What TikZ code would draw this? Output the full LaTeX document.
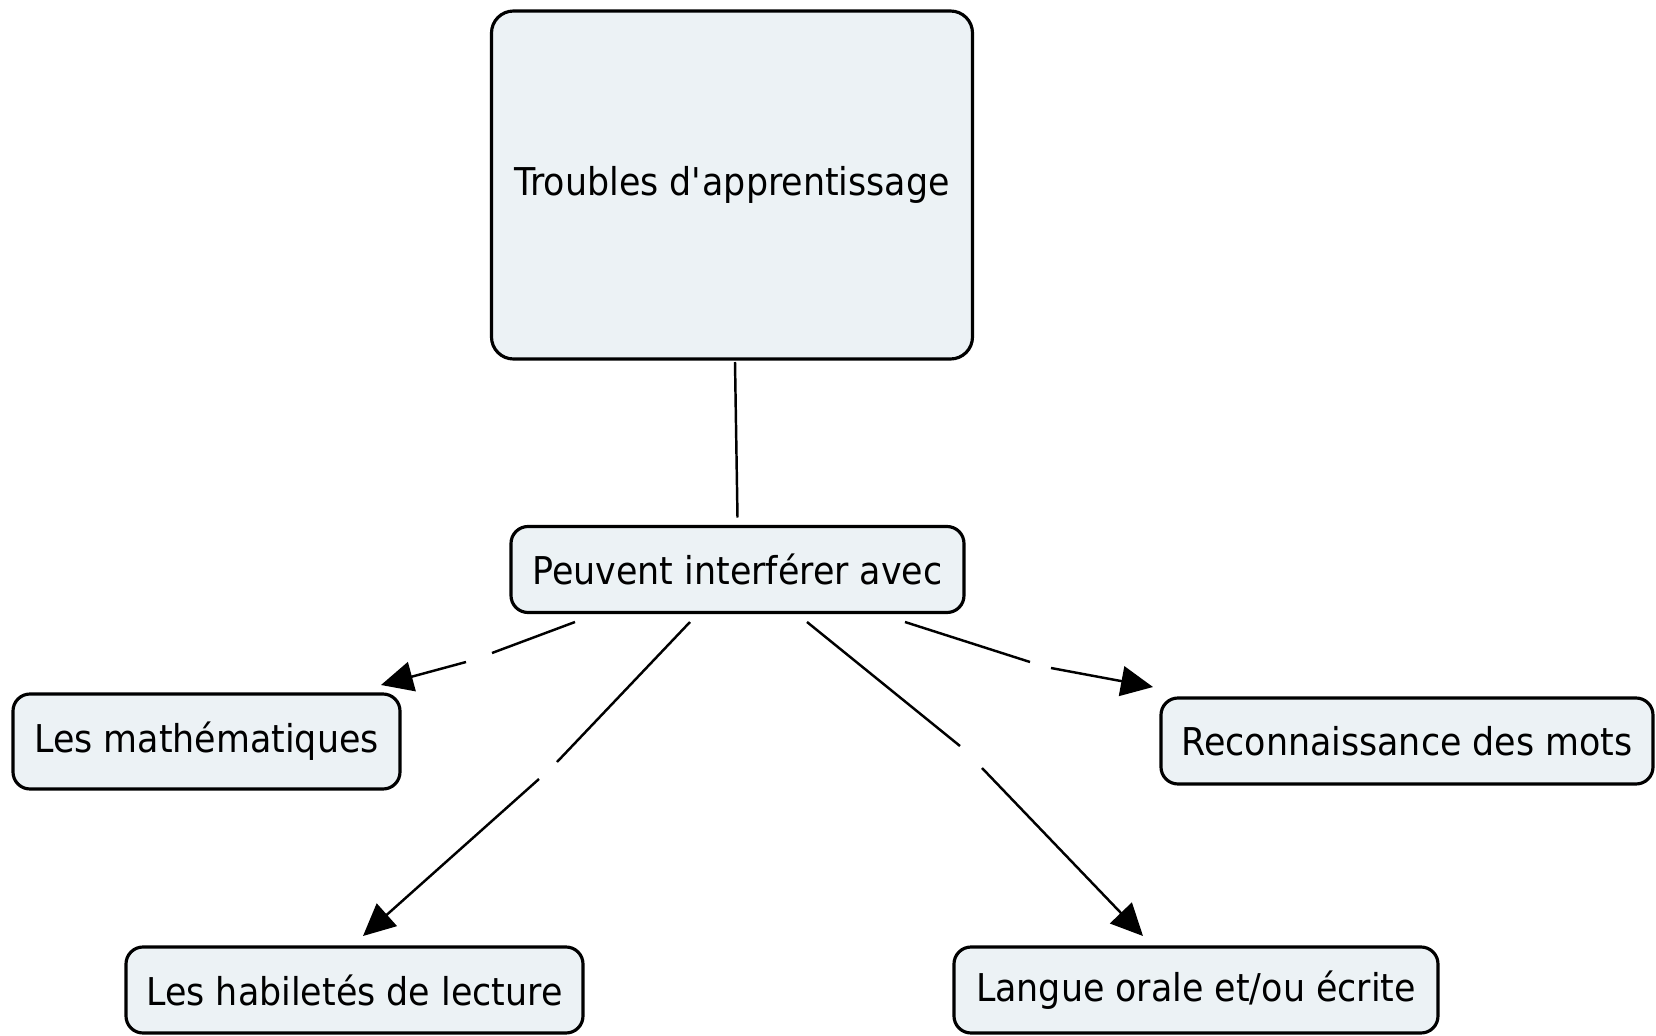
\documentclass[tikz,border=0pt]{standalone}
\usepackage{fontspec}
\setmainfont[FakeStretch=0.91]{DejaVu Sans}
\usetikzlibrary{arrows.meta,positioning,calc}
\definecolor{conceptcolor}{RGB}{236, 242, 245}

\begin{document}
\begin{tikzpicture}[
                concept/.style={rectangle, rounded corners=0.17cm, draw, line width=0.9pt, fill=conceptcolor,
                    minimum height=0.86cm, inner sep=0pt, outer sep=0pt, font=\fontsize{10.9pt}{13pt}\selectfont},
                link/.style={line width=0.7pt},
                arrow/.style={-{Triangle[length=0.32cm, width=0.3cm]}, line width=0.7pt}]
                \useasboundingbox (0,0) rectangle (16.56,10.35);

                % Concepts
                \node[concept, minimum width=4.81cm, minimum height=3.48cm, rounded corners=0.22cm] (troubles) at (7.32,8.50) {Troubles d\textquotesingle apprentissage};
                \node[concept, minimum width=4.53cm] (peuvent) at (7.375,4.655) {Peuvent interférer avec};
                \node[concept, minimum width=3.87cm, minimum height=0.95cm] (maths) at (2.065,2.935) {Les mathématiques};
                \node[concept, minimum width=4.92cm] (mots) at (14.07,2.94) {Reconnaissance des mots};
                \node[concept, minimum width=4.57cm] (lecture) at (3.545,0.45) {Les habiletés de lecture};
                \node[concept, minimum width=4.84cm] (langue) at (11.96,0.45) {Langue orale et/ou écrite};

                % Connections
                \draw[link] ([shift={(0.03,-0.03)}]troubles.south) -- ([yshift=0.09cm]peuvent.north);
                \foreach \t/\sx/\ex/\ey/\g/\h in {maths/-1.625/1.745/0.09/{4.92,3.82}/{4.66,3.73},
                                                 lecture/-0.475/0.085/0.11/{5.57,2.73}/{5.39,2.56},
                                                 langue/0.695/-0.53/0.11/{9.60,2.89}/{9.82,2.67},
                                                 mots/1.675/-2.54/0.11/{10.30,3.73}/{10.51,3.67}} {
                    \coordinate (\t-from) at ([shift={(\sx,-0.095)}]peuvent.south);
                    \coordinate (\t-to) at ([shift={(\ex,\ey)}]\t.north);
                    \coordinate (\t-g1) at (\g);
                    \coordinate (\t-g2) at (\h);
                    \draw[link] (\t-from) -- (\t-g1);
                    \draw[arrow] (\t-g2) -- (\t-to);
                }

            \end{tikzpicture}
\end{document}
